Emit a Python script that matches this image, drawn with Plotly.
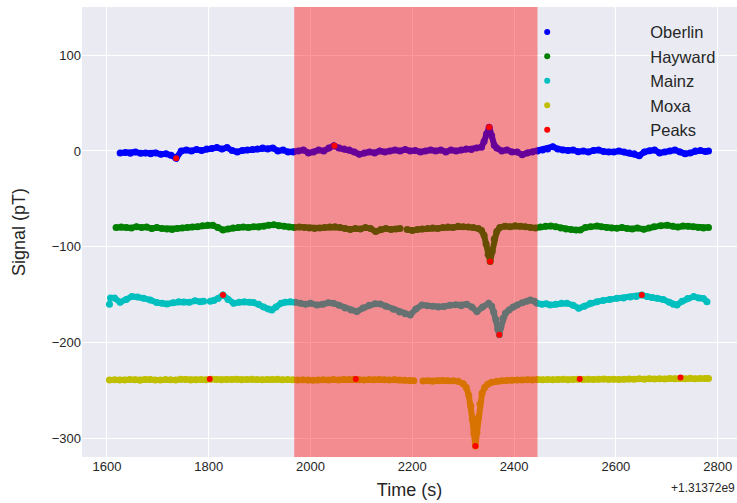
import plotly.graph_objects as go

# ---- data (time offset in s, relative to 1.31372e9; signal in pT) ----
oberlin_t = [1626, 1636, 1646, 1656, 1666, 1676, 1686, 1696, 1706, 1716, 1726, 1736, 1746, 1756, 1766,
             1776, 1786, 1796, 1806, 1816, 1826, 1836, 1846, 1856, 1866, 1876, 1886, 1896, 1906, 1916,
             1926, 1936, 1946, 1956, 1966, 1976, 1986, 1996, 2006, 2016, 2026, 2036, 2046, 2056, 2066,
             2076, 2086, 2096, 2106, 2116, 2126, 2136, 2146, 2156, 2166, 2176, 2186, 2196, 2206, 2216,
             2226, 2236, 2246, 2256, 2266, 2276, 2286, 2296, 2306, 2316, 2326, 2336, 2341, 2346, 2351,
             2356, 2361, 2366, 2376, 2386, 2396, 2406, 2416, 2426, 2436, 2446, 2456, 2466, 2476, 2486,
             2496, 2506, 2516, 2526, 2536, 2546, 2556, 2566, 2576, 2586, 2596, 2606, 2616, 2626, 2636,
             2646, 2656, 2666, 2676, 2686, 2696, 2706, 2716, 2726, 2736, 2746, 2756, 2766, 2776, 2782]
oberlin_v = [-2, -1.5, -2.5, -1, -2.5, -2, -3, -2, -3.5, -3, -4.5, -7.6, 0, 1, 0,
             1.5, 0.5, 2, 2.5, 3.5, 2, 3.5, 0.5, -1, 0.5, 1, 1.5, 2, 3, 2,
             3, 0, 1, -1, -1, 0, 1, -2, -1, 1, 0, 3, 5.5, 3, 2,
             1, -1, -3.5, -2, -1, -2, 0, -1, 0, 1, 0, 1.5, 0, 0.5, -1,
             0, 1, 0, 1, -1, 1, 0, 1, 2, 1.5, 3, 4, 10, 18, 24.7,
             16, 6, 3, 0, 1, -1, -1, -4, -2, -1, 0, 1, 2, 4.5, 2,
             1, 0.5, 1, -0.7, 0, -1, 0.5, 1, -0.5, -1, -1, 0, -1, -2, -3,
             -5, -1, 0.3, 1, -2, -1, 0, 1, -1, -3, -2, 0, 0.5, -0.5, 0]

hayward_t = [1618, 1628, 1638, 1648, 1658, 1668, 1678, 1688, 1698, 1708, 1718, 1728, 1738, 1748, 1758,
             1768, 1778, 1788, 1798, 1808, 1818, 1828, 1838, 1848, 1858, 1868, 1878, 1888, 1898, 1908,
             1918, 1928, 1938, 1948, 1958, 1968, 1978, 1988, 1998, 2008, 2018, 2028, 2038, 2048, 2058,
             2068, 2078, 2088, 2098, 2108, 2118, 2128, 2138, 2148, 2158, 2168, 2176, 2182, 2190, 2200,
             2210, 2220, 2230, 2240, 2250, 2260, 2270, 2280, 2290, 2300, 2310, 2320, 2330, 2336, 2341,
             2345, 2349, 2353, 2357, 2361, 2366, 2372, 2382, 2392, 2402, 2412, 2422, 2432, 2442, 2452,
             2462, 2472, 2482, 2492, 2502, 2512, 2522, 2530, 2540, 2550, 2563, 2572, 2582, 2592, 2602,
             2612, 2622, 2632, 2642, 2655, 2665, 2675, 2688, 2701, 2712, 2722, 2732, 2742, 2752, 2762,
             2772, 2782]
hayward_v = [-80, -79.5, -80, -80.5, -79, -80, -79.5, -81, -80, -81, -81.5, -82, -81, -80.5, -80,
             -79.5, -79, -78, -77.5, -77.5, -80, -82.5, -81.5, -80.5, -80, -79.5, -80, -79, -79.5, -78.5,
             -77.5, -77, -78, -78.5, -79.5, -80, -79.5, -80, -80.5, -81, -80.5, -80, -79.5, -79, -80,
             -81, -82, -81, -81.5, -80, -81, -84, -82, -81, -82, -81.5, -81, None, -82, -83,
             -82, -81.5, -81, -80.5, -81, -80, -79.5, -80, -78.5, -79, -79.5, -80, -81, -83, -88,
             -97, -108, -115.5, -105, -92, -84, -80, -78.5, -79, -78, -78.5, -79, -80, -80.5, -79.5,
             -78.5, -78.3, -79, -80.5, -81.5, -82, -82.5, -82.5, -80, -79, -78.3, -79, -80, -80.5, -80.7,
             -80, -81, -81.5, -80.5, -81.8, -80.5, -79, -78, -77.6, -78.5, -79.5, -78.3, -78.5, -79, -80,
             -80.5, -80]

mainz_t = [1605, 1606, 1607, 1615, 1626, 1638, 1649, 1660, 1672, 1685, 1698, 1708, 1718, 1730, 1741,
           1751, 1762, 1773, 1783, 1790, 1796, 1803, 1810, 1818, 1828, 1838, 1849, 1860, 1870, 1880,
           1888, 1898, 1908, 1917, 1924, 1932, 1942, 1950, 1960, 1970, 1980, 1990, 2000, 2013, 2024,
           2035, 2045, 2056, 2068, 2080, 2091, 2103, 2115, 2127, 2137, 2148, 2163, 2175, 2186, 2196,
           2207, 2219, 2230, 2240, 2251, 2262, 2274, 2285, 2296, 2307, 2317, 2327, 2338, 2350, 2356,
           2360, 2364, 2368, 2371, 2374, 2378, 2383, 2390, 2398, 2406, 2416, 2425, 2432, 2440, 2445,
           2455, 2463, 2471, 2482, 2493, 2504, 2516, 2527, 2538, 2550, 2563, 2575, 2588, 2602, 2615,
           2628, 2640, 2651, 2661, 2671, 2681, 2693, 2705, 2713, 2720, 2730, 2741, 2753, 2763, 2772,
           2779]
mainz_v = [-160, None, -153.4, -153.5, -158, -155, -152, -152.5, -153.8, -155.5, -158.3, -159, -159.7, -158.5, -157.5,
           -157.6, -158, -156.5, -157.3, -157, None, -157, -156.2, -154, -150.3, -155, -159, -158, -157.5, -158,
           -158.3, -160, -163, -165, -166, -163, -159, -158, -157.3, -158, -159, -160, -159, -160.7, -160,
           -158.5, -159, -161, -164, -166, -167.7, -164, -161, -159.5, -159.7, -162, -165.3, -168, -170, -171.2,
           -165, -160.7, -161.5, -162, -163, -162.5, -161, -160.5, -161.5, -160, -163, -167.7, -163, -159, -162,
           -168, -176, -186, -192, -184, -175, -169.4, -166, -163, -160.7, -158.5, -157, -155.5, -157, -159,
           -160, -159.5, -160.7, -160, -159, -159, -161, -164.2, -162, -159, -157.3, -156, -155, -153.8, -153.5,
           -152.5, -152, -150.3, -152, -153, -153.8, -155, -158, -160, -160.7, -157, -154, -152, -153.5, -154,
           -157.3]

moxa_t = [1605, 1615, 1625, 1635, 1645, 1655, 1665, 1675, 1685, 1695, 1705, 1715, 1725, 1735, 1745,
          1755, 1765, 1775, 1785, 1795, 1805, 1815, 1825, 1835, 1845, 1855, 1865, 1875, 1885, 1895,
          1905, 1915, 1925, 1935, 1945, 1955, 1965, 1975, 1985, 1995, 2005, 2015, 2025, 2035, 2045,
          2055, 2065, 2075, 2085, 2095, 2105, 2115, 2125, 2135, 2145, 2155, 2165, 2175, 2185, 2195,
          2203, 2210, 2221, 2230, 2240, 2250, 2260, 2270, 2280, 2290, 2300, 2306, 2311, 2315, 2318,
          2321, 2324, 2327, 2330, 2333, 2337, 2342, 2348, 2356, 2366, 2376, 2386, 2396, 2406, 2416,
          2426, 2436, 2446, 2456, 2466, 2476, 2486, 2496, 2506, 2516, 2526, 2536, 2546, 2556, 2566,
          2576, 2586, 2596, 2606, 2616, 2626, 2636, 2646, 2656, 2666, 2676, 2686, 2696, 2706, 2716,
          2726, 2736, 2746, 2756, 2766, 2776, 2782]
moxa_v = [-239, -238.8, -239, -239.2, -238.6, -238.9, -239.3, -238.7, -238.5, -239, -239.2, -238.6, -238.8, -239, -238.4,
          -238.7, -239.1, -238.8, -238.5, -238.9, -238.2, -238.6, -238.9, -238.5, -238.7, -238.4, -238.8, -238.6, -238.3, -238.7,
          -238.9, -238.5, -238.7, -238.4, -238.8, -238.6, -238.9, -239.2, -238.8, -239.1, -239.4, -239, -238.8, -239.2, -238.6,
          -239, -238.4, -238.7, -238.2, -238.8, -239.1, -238.6, -238.9, -238.5, -238.8, -239, -238.6, -239, -239.3, -239.6,
          -240, None, -240.2, -239.8, -240.3, -240, -239.6, -240, -239.8, -240.5, -243, -247, -255, -266, -280,
          -295, -308, -294, -278, -264, -253, -247, -243.5, -241.5, -240.5, -240, -239.6, -239.4, -239, -239.2,
          -238.8, -239, -238.6, -238.8, -238.5, -238.9, -238.6, -238.4, -238.8, -238.5, -238.2, -238.6, -238.3, -238.7, -238.4,
          -238.1, -238.5, -238.2, -238.6, -238.3, -238, -238.4, -237.9, -238.2, -237.8, -238.1, -237.7, -238, -237.6, -237.9,
          -237.5, -237.8, -237.4, -237.7, -237.5, -237.6, -237.5]

peaks_t = [1736, 2047, 2351, 2353, 1828, 2371, 2651, 1802, 2089, 2324, 2529, 2727]
peaks_v = [-7.6, 5.5, 24.7, -115.5, -150.3, -192, -150.3, -238, -238, -308, -238, -236.5]

span_start, span_end = 1968, 2446
x_ticks = [1600, 1800, 2000, 2200, 2400, 2600, 2800]
y_ticks = [-300, -200, -100, 0, 100]
offset_label = "+1.31372e9"

series = [
    ("Oberlin", oberlin_t, oberlin_v, "#0000ff"),
    ("Hayward", hayward_t, hayward_v, "#008000"),
    ("Mainz", mainz_t, mainz_v, "#00bfbf"),
    ("Moxa", moxa_t, moxa_v, "#bfbf00"),
]

FONT = "Liberation Sans, Arial, sans-serif"
fig = go.Figure()
for name, t, v, c in series:
    fig.add_trace(go.Scatter(x=t, y=v, mode="lines+markers", showlegend=False,
                             line=dict(color=c, width=6), marker=dict(color=c, size=7),
                             connectgaps=False, hoverinfo="skip"))
fig.add_trace(go.Scatter(x=peaks_t, y=peaks_v, mode="markers", showlegend=False,
                         marker=dict(color="#ff0000", size=6)))
for name, t, v, c in series + [("Peaks", None, None, "#ff0000")]:
    fig.add_trace(go.Scatter(x=[None], y=[None], mode="markers", name=name,
                             marker=dict(color=c, size=6)))

fig.add_shape(type="rect", xref="x", yref="paper", x0=span_start, x1=span_end, y0=0, y1=1,
              fillcolor="rgba(255,0,0,0.4)", line=dict(width=0), layer="above")

fig.add_annotation(text=offset_label, xref="paper", yref="paper", x=1, y=-0.069,
                   xanchor="right", yanchor="middle", showarrow=False,
                   font=dict(family=FONT, size=12, color="#262626"))

fig.update_layout(
    width=737, height=503,
    margin=dict(l=82, r=0, t=7, b=46),
    paper_bgcolor="white", plot_bgcolor="#eaeaf2",
    font=dict(family=FONT, color="#262626"),
    legend=dict(x=0.553, y=0.983, xanchor="left", yanchor="top", bgcolor="rgba(0,0,0,0)",
                font=dict(size=16.5, color="#262626"), itemwidth=196),
    xaxis=dict(range=[1551, 2838], tickvals=x_ticks, showgrid=True, gridcolor="white", gridwidth=1,
               zeroline=False, showline=False, ticks="", tickfont=dict(size=13),
               title=dict(text="Time (s)", font=dict(size=18), standoff=10)),
    yaxis=dict(range=[-319.5, 150.3], tickvals=y_ticks, showgrid=True, gridcolor="white", gridwidth=1,
               zeroline=False, showline=False, ticks="", tickfont=dict(size=13),
               title=dict(text="Signal (pT)", font=dict(size=18), standoff=21)),
)
fig.write_html("out.html")
